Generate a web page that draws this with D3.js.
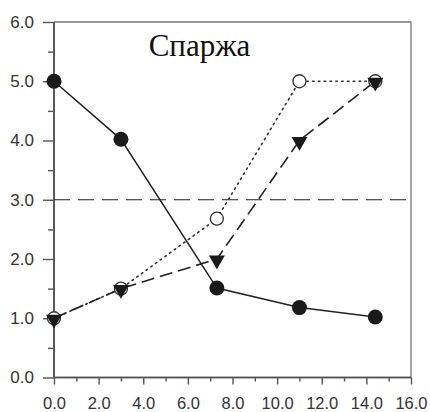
<!DOCTYPE html>
<html><head><meta charset="utf-8">
<script src="https://cdn.jsdelivr.net/npm/d3@7"></script>
<style>body{margin:0;background:#fff}svg{display:block}</style>
</head><body>
<script>
const xValues = [0.0, 3.0, 7.3, 11.0, 14.4];
const filledCircles = [5.0, 4.02, 1.51, 1.18, 1.02];
const openCircles = [1.0, 1.5, 2.68, 5.0, 5.0];
const triangles = [1.0, 1.5, 2.0, 4.0, 5.0];
const referenceLine = 3.0;
const xTicks = [0,2,4,6,8,10,12,14,16];
const yTicks = [0,1,2,3,4,5,6];
const title = "Спаржа";

const W = 430, H = 412;
const svg = d3.select("body").append("svg").attr("width", W).attr("height", H);
const x = d3.scaleLinear().domain([0,16]).range([54,411]);
const y = d3.scaleLinear().domain([0,6]).range([377.5,22]);
const axisColor = "#555";
const textColor = "#333";

svg.append("path").attr("d", `M${x(0)},${y(6)}H${x(16)}V${y(0)}`).attr("fill","none").attr("stroke","#777").attr("stroke-width",1.3);

const ya = svg.append("g").attr("transform", `translate(${x(0)},0)`)
  .call(d3.axisLeft(y).tickValues(yTicks).tickSize(11).tickPadding(9).tickFormat(d3.format(".1f")));
ya.append("g").call(d3.axisLeft(y).tickValues(d3.range(0.5,6,1)).tickSize(6).tickFormat(""));
const xa = svg.append("g").attr("transform", `translate(0,${y(0)})`)
  .call(d3.axisBottom(x).tickValues(xTicks).tickSize(7).tickPadding(13).tickFormat(d3.format(".1f")));
xa.append("g").call(d3.axisBottom(x).tickValues(d3.range(1,16,2)).tickSize(4).tickFormat(""));
svg.selectAll(".domain").attr("stroke", axisColor).attr("stroke-width",1.6);
svg.selectAll(".tick line").attr("stroke", axisColor).attr("stroke-width",1.4);
svg.selectAll(".tick text").attr("fill", textColor).style("font-family","'Liberation Sans', Arial, sans-serif").style("font-size","16.5px");
ya.selectAll(".tick text").style("font-size","17px");
ya.selectAll(".domain").attr("d", `M0,${y(6)}V${y(0)}`);
xa.selectAll(".domain").attr("d", `M${x(0)},0H${x(16)}`);

svg.append("line").attr("x1", x(0)).attr("x2", x(16)).attr("y1", y(referenceLine)).attr("y2", y(referenceLine))
  .attr("stroke","#222").attr("stroke-width",1.2).attr("stroke-dasharray","16,8");

svg.append("text").attr("x", 199.5).attr("y", 56).attr("text-anchor","middle")
  .style("font-family","'Liberation Serif', 'Times New Roman', serif").style("font-size","31px").attr("fill","#111").text(title);

const line = d3.line().x((d,i)=>x(xValues[i])).y(d=>y(d));

svg.append("path").attr("d", line(openCircles)).attr("fill","none").attr("stroke","#333").attr("stroke-width",1.6).attr("stroke-dasharray","1.6,4.2").attr("stroke-linecap","round");
svg.append("path").attr("d", line(triangles)).attr("fill","none").attr("stroke","#222").attr("stroke-width",1.6).attr("stroke-dasharray","13,6");
svg.append("path").attr("d", line(filledCircles)).attr("fill","none").attr("stroke","#222").attr("stroke-width",1.5);

svg.selectAll(".oc").data(openCircles).enter().append("circle")
  .attr("cx",(d,i)=>x(xValues[i])).attr("cy",d=>y(d)).attr("r",6.5)
  .attr("fill","#fff").attr("stroke","#333").attr("stroke-width",1.3);
const tri = d3.symbol().type(d3.symbolTriangle).size(110);
svg.selectAll(".tr").data(triangles).enter().append("path")
  .attr("d", tri).attr("transform",(d,i)=>`translate(${x(xValues[i])},${y(d)+1}) rotate(180)`)
  .attr("fill","#1a1a1a");
svg.selectAll(".fc").data(filledCircles).enter().append("circle")
  .attr("cx",(d,i)=>x(xValues[i])).attr("cy",d=>y(d)).attr("r",7.5)
  .attr("fill","#1a1a1a");
</script>
</body></html>
